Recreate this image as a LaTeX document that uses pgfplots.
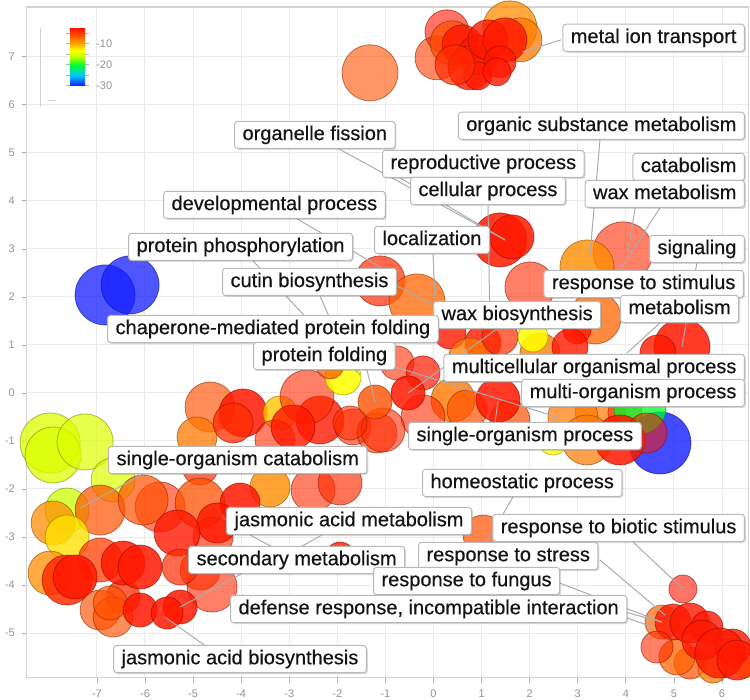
\documentclass[border=0pt]{standalone}
\usepackage{pgfplots}
\pgfplotsset{compat=1.18}
\usepackage{pgfplotstable}
\usepackage{fontspec}
\setmainfont{Liberation Sans}
\newfontfamily\lblfont{Liberation Sans}[FakeBold=0.5]
\usetikzlibrary{shadows}

% x, y = semantic space coordinates, r = bubble radius (pt), v = log10 p-value, op = fill opacity
\pgfplotstableread{
x y r v op
-7.973 -1.042 15 -15 0.75
-7.911 -1.292 14 -15 0.75
-7.245 -1.021 14 -15 0.7
-6.663 -1.813 11 -15 0.7
-7.620 -2.438 11 -16 0.75
-7.911 -2.708 11 -9 0.75
-6.933 -2.438 12.5 -6 0.7
-7.620 -3.000 11 -12 0.8
-7.973 -3.750 11 -9 0.75
-6.933 -3.479 11 -5 0.75
-7.620 -3.896 12.5 -4 0.85
-7.453 -3.833 11 -3 0.85
-6.455 -4.250 8.5 -4 0.75
-6.933 -4.521 10 -6 0.65
-6.663 -4.667 10 -6 0.65
-4.647 -0.292 12.5 -6 0.65
-4.917 -0.917 10 -8 0.75
-3.960 -0.417 12 -3 0.85
-4.168 -0.625 10 -4 0.75
-3.191 -0.417 8.5 -11 0.8
-3.295 -0.979 10 -4 0.6
-2.360 -0.563 12 -3 0.8
-1.674 -0.708 9 -4 0.6
-1.175 -0.833 10 -4 0.6
-4.854 -1.542 9 -4 0.7
-3.399 -1.958 10 -9 0.8
-2.505 -2.021 11 -4 0.6
-1.944 -1.875 11 -4 0.65
-5.686 -2.375 12.5 -4 0.6
-6.040 -2.229 12.5 -6 0.7
-4.854 -2.292 12.5 -6 0.75
-4.023 -2.292 10 -3 0.85
-4.584 -3.000 10 -4 0.65
-4.501 -2.708 10 -3 0.8
-5.333 -2.917 11.5 -3 0.8
-4.854 -3.688 10 -4 0.6
-4.605 -4.042 12.5 -4 0.6
-5.270 -3.625 9 -4 0.7
-6.455 -3.542 11 -3 0.85
-6.102 -3.625 11 -3 0.85
-6.726 -4.375 8.5 -6 0.65
-5.270 -4.458 8.5 -3 0.85
-6.102 -4.521 8.5 -3 0.85
-1.944 -3.417 7.5 -3 0.8
-5.541 -4.583 8 -3 0.85
-2.630 -0.083 13.5 -4 0.6
-0.759 0.625 8.5 -4 0.6
-1.881 0.333 9 -13 0.85
-2.152 0.583 7 -6 0.7
0.343 1.250 8 -3 0.8
1.029 1.042 9 -3 0.8
0.759 0.688 11 -8 0.75
-0.218 0.417 8.5 -3 0.7
2.630 0.125 10 -8 0.75
0.405 -0.146 11 -8 0.8
0.696 -0.354 10 -6 0.7
1.590 -0.563 10 -6 0.7
-0.218 -0.500 11 -4 0.6
-1.050 -0.771 11 -4 0.6
-1.736 -0.625 8.5 -4 0.6
-2.921 -0.708 11 -3 0.8
-1.216 -0.188 8.5 -6 0.8
-0.530 0.000 8.5 -3 0.85
1.341 -0.146 11 -3 0.85
-1.112 2.333 12.5 -4 0.7
-0.343 1.896 14 -7 0.75
3.940 2.938 15 -4 0.6
3.191 2.625 13.5 -9 0.8
2.006 2.208 12.5 -4 0.6
1.383 3.188 13.5 -3 0.85
1.632 3.250 11 -3 0.85
3.358 1.563 13 -7 0.75
2.214 0.833 10 -8 0.75
1.383 1.167 9 -4 0.7
2.069 1.167 7.5 -13 0.85
2.983 1.313 7 -3 0.8
2.838 0.958 9 -3 0.8
5.166 0.958 14 -3 0.85
4.667 0.833 9 -3 0.8
3.462 -0.354 12.5 -8 0.7
2.900 -0.500 12.5 -8 0.7
3.191 -0.979 12.5 -8 0.7
2.484 -0.979 7.5 -13 0.8
3.981 -0.417 8.5 -4 0.6
4.709 -1.042 15.5 -30 0.8
4.293 -0.313 13 -20 0.75
3.877 -0.979 12.5 -3 0.85
4.439 -0.833 10 -3 0.55
-1.320 6.667 14 -6 0.6
0.073 6.979 11 -5 0.6
0.281 7.521 11 -3 0.6
0.385 7.292 11 -6 0.7
1.590 7.604 13.5 -9 0.75
1.798 7.354 11 -8 0.75
0.593 7.250 10 -3 0.8
0.925 7.042 10 -3 0.8
0.759 6.771 11 -3 0.8
1.133 7.354 10 -3 0.8
1.486 7.354 11 -3 0.8
1.383 6.896 8 -3 0.8
0.925 6.604 7 -3 0.8
1.320 6.688 7 -3 0.8
0.447 6.833 10 -4 0.7
4.751 -4.771 8.5 -7 0.7
5.333 -5.625 8 -6 0.7
5.062 -5.500 9 -7 0.75
5.811 -5.729 7.5 -8 0.75
6.476 -5.729 5 -12 0.75
4.979 -4.771 9 -3 0.8
5.333 -4.792 10 -3 0.8
5.686 -4.875 8 -3 0.8
5.582 -5.146 10 -3 0.8
6.227 -5.292 9 -3 0.8
5.956 -5.417 12.5 -3 0.8
6.310 -5.563 10 -3 0.8
4.647 -5.292 8 -4 0.6
5.187 -4.083 7 -3 0.6
-6.830 2.042 15 -30 0.75
-6.310 2.250 14.5 -30 0.75
1.029 -2.958 10 -6 0.7
}\bubbles

\tikzset{
  lbl/.style={font=\lblfont\fontsize{10}{12}\selectfont, text=black!92, fill=white,
    draw=gray!55, line width=0.5pt, rounded corners=1.5pt,
    inner xsep=4pt, inner ysep=2pt, text height=7.4pt, text depth=2.2pt,
    drop shadow={shadow xshift=0.7pt, shadow yshift=-0.7pt, opacity=0.3, fill=gray}},
  ln/.style={draw=gray!65, line width=0.5pt},
}

\begin{document}
\begin{tikzpicture}
\begin{axis}[
  scale only axis, width=360.9pt, height=335.4pt,
  xmin=-8.46, xmax=6.55, ymin=-5.93, ymax=8.04,
  xtick={-7,...,6}, ytick={-5,...,7},
  tick pos=left, tick align=outside, major tick length=2.5pt,
  tick style={gray!60, line width=0.4pt},
  tick label style={font=\fontsize{5.5}{6}\selectfont, text=gray!85},
  /pgf/number format/assume math mode=true,
  axis line style={gray!35, line width=0.6pt},
  grid=major, grid style={gray!16, line width=0.5pt},
  clip mode=individual,
  colormap={revigo}{rgb255(0pt)=(20,30,255) rgb255(10pt)=(0,200,255)
    rgb255(20pt)=(0,255,40) rgb255(28pt)=(200,255,0) rgb255(34pt)=(255,255,0)
    rgb255(42pt)=(255,140,0) rgb255(48pt)=(255,80,0) rgb255(55pt)=(255,15,0)},
  point meta min=-30, point meta max=-2.5,
  colorbar,
  colorbar style={
    at={(parent axis.north west)}, anchor=north west,
    xshift=13.2pt, yshift=-10.5pt,
    width=7.5pt, height=29pt,
    axis line style={draw=none},
    ytick={-30,-20,-10}, minor ytick={-25,-15,-5},
    yticklabel pos=right,
    tick align=outside, major tick length=2pt, minor tick length=2pt,
    tick style={gray!60, line width=0.4pt},
    yticklabel style={font=\fontsize{5.5}{6}\selectfont, text=gray!85},
    /pgf/number format/assume math mode=true,
  },
]
\addplot[
  scatter, only marks, mark=*,
  scatter src=explicit,
  line width=0.4pt,
  visualization depends on={\thisrow{r} \as \rad},
  visualization depends on={\thisrow{op} \as \opac},
  scatter/use mapped color={draw=mapped color!55!black, fill=mapped color},
  scatter/@pre marker code/.append style={/tikz/mark size=\rad pt},
  scatter/@pre marker code/.append code={\pgfsetfillopacity{\opac}\pgfsetstrokeopacity{0.6}},
] table[x=x, y=y, meta=v] {\bubbles};

% size legend remnant
\draw[gray!35, line width=0.5pt] (axis cs:-8.181,7.604) -- (axis cs:-8.181,5.958);
\draw[gray!35, line width=0.5pt] (axis cs:-8.015,6.083) -- (axis cs:-7.848,6.083);

% leader lines
\draw[ln] (axis cs:2.651,7.354) -- (axis cs:1.861,7.104);
\draw[ln] (axis cs:3.462,5.271) -- (axis cs:3.254,2.875);
\draw[ln] (axis cs:-2.006,5.104) -- (axis cs:1.486,3.188);
\draw[ln] (axis cs:-0.696,4.479) -- (axis cs:1.486,3.188);
\draw[ln] (axis cs:1.133,3.896) -- (axis cs:1.175,1.313);
\draw[ln] (axis cs:4.293,4.417) -- (axis cs:4.044,2.979);
\draw[ln] (axis cs:4.709,3.854) -- (axis cs:3.877,2.563);
\draw[ln] (axis cs:-2.838,3.625) -- (axis cs:-1.112,2.625);
\draw[ln] (axis cs:-0.010,2.896) -- (axis cs:0.031,1.938);
\draw[ln] (axis cs:-3.753,2.750) -- (axis cs:-1.528,0.375);
\draw[ln] (axis cs:5.478,2.708) -- (axis cs:5.166,0.958);
\draw[ln] (axis cs:-2.360,2.021) -- (axis cs:-1.736,0.583);
\draw[ln] (axis cs:0.135,1.771) -- (axis cs:-1.008,2.354);
\draw[ln] (axis cs:4.709,1.458) -- (axis cs:4.023,0.833);
\draw[ln] (axis cs:-1.528,1.042) -- (axis cs:-1.216,-0.188);
\draw[ln] (axis cs:-0.863,0.563) -- (axis cs:2.630,-0.521);
\draw[ln] (axis cs:1.320,1.333) -- (axis cs:-0.530,0.000);
\draw[ln] (axis cs:1.279,-0.604) -- (axis cs:1.341,-0.188);
\draw[ln] (axis cs:-6.040,-1.688) -- (axis cs:-7.349,-2.396);
\draw[ln] (axis cs:1.653,-2.167) -- (axis cs:1.071,-3.167);
\draw[ln] (axis cs:-3.815,-2.958) -- (axis cs:-3.233,-3.271);
\draw[ln] (axis cs:-2.318,-2.958) -- (axis cs:-2.879,-3.271);
\draw[ln] (axis cs:4.148,-3.104) -- (axis cs:5.187,-4.083);
\draw[ln] (axis cs:-3.960,-3.750) -- (axis cs:-5.270,-4.458);
\draw[ln] (axis cs:3.462,-3.479) -- (axis cs:4.813,-4.625);
\draw[ln] (axis cs:2.568,-3.938) -- (axis cs:4.751,-4.771);
\draw[ln] (axis cs:3.981,-4.667) -- (axis cs:4.605,-4.896);
\draw[ln] (axis cs:3.981,-4.563) -- (axis cs:4.751,-4.771);
\draw[ln] (axis cs:-4.709,-5.292) -- (axis cs:-5.582,-4.667);

% labels
\node[lbl, anchor=east] at (axis cs:6.476,7.396) {metal ion transport};
\node[lbl, anchor=east] at (axis cs:6.476,5.563) {organic substance metabolism};
\node[lbl, anchor=west] at (axis cs:-4.148,5.375) {organelle fission};
\node[lbl, anchor=west] at (axis cs:-1.071,4.771) {reproductive process};
\node[lbl, anchor=east] at (axis cs:6.476,4.708) {catabolism};
\node[lbl, anchor=west] at (axis cs:-0.489,4.208) {cellular process};
\node[lbl, anchor=east] at (axis cs:6.476,4.146) {wax metabolism};
\node[lbl, anchor=west] at (axis cs:-5.624,3.917) {developmental process};
\node[lbl, anchor=west] at (axis cs:-1.237,3.188) {localization};
\node[lbl, anchor=west] at (axis cs:-6.351,3.042) {protein phosphorylation};
\node[lbl, anchor=east] at (axis cs:6.476,3.000) {signaling};
\node[lbl, anchor=west] at (axis cs:-4.397,2.313) {cutin biosynthesis};
\node[lbl, anchor=east] at (axis cs:6.455,2.271) {response to stimulus};
\node[lbl, anchor=west] at (axis cs:3.877,1.750) {metabolism};
\node[lbl, anchor=west] at (axis cs:-0.010,1.625) {wax biosynthesis};
\node[lbl, anchor=west] at (axis cs:-6.788,1.333) {chaperone-mediated protein folding};
\node[lbl, anchor=west] at (axis cs:-3.753,0.771) {protein folding};
\node[lbl, anchor=east] at (axis cs:6.476,0.521) {multicellular organismal process};
\node[lbl, anchor=east] at (axis cs:6.476,0.000) {multi-organism process};
\node[lbl, anchor=west] at (axis cs:-0.530,-0.896) {single-organism process};
\node[lbl, anchor=west] at (axis cs:-6.767,-1.396) {single-organism catabolism};
\node[lbl, anchor=west] at (axis cs:-0.239,-1.875) {homeostatic process};
\node[lbl, anchor=west] at (axis cs:-4.314,-2.667) {jasmonic acid metabolism};
\node[lbl, anchor=east] at (axis cs:6.476,-2.813) {response to biotic stimulus};
\node[lbl, anchor=west] at (axis cs:-0.322,-3.396) {response to stress};
\node[lbl, anchor=west] at (axis cs:-5.104,-3.479) {secondary metabolism};
\node[lbl, anchor=west] at (axis cs:-1.258,-3.917) {response to fungus};
\node[lbl, anchor=west] at (axis cs:-4.231,-4.500) {defense response, incompatible interaction};
\node[lbl, anchor=west] at (axis cs:-6.663,-5.542) {jasmonic acid biosynthesis};
\end{axis}
\pgfresetboundingbox
\path[use as bounding box] (-13.35pt,-11.15pt) rectangle (361.65pt,338.85pt);
\end{tikzpicture}
\end{document}
